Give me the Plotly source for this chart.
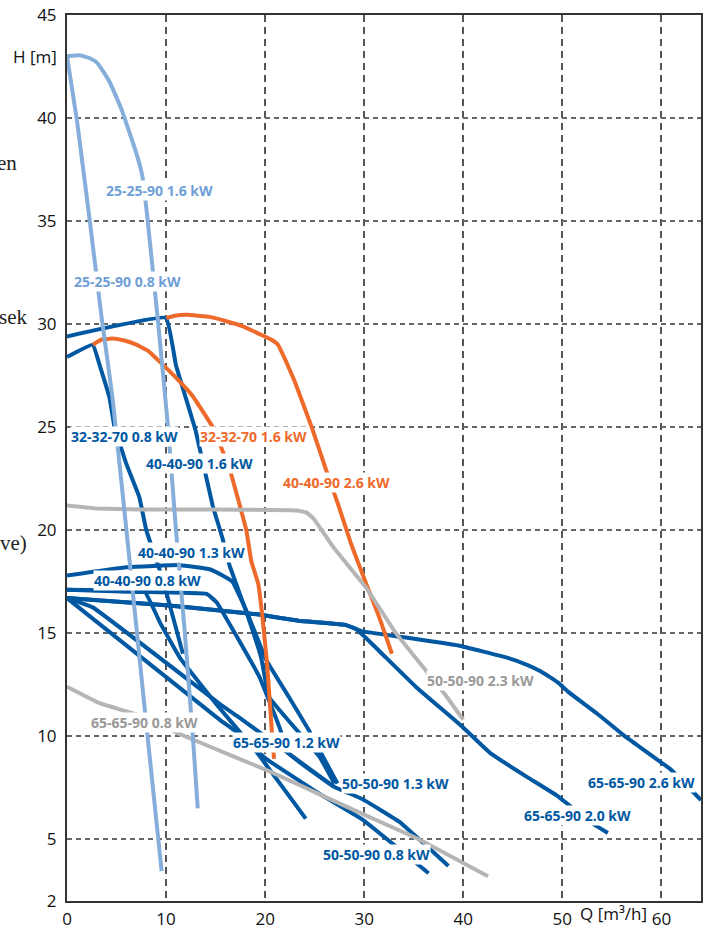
import plotly.graph_objects as go

# ---------------- data ----------------
DARK = "#0058A2"
LIGHT = "#85AEDB"
ORANGE = "#EE6A2B"
GRAY = "#B5B5B5"

q_25_25_90_08 = [0, 1.0, 2.3, 3.5, 4.6, 6.3, 8.0, 9.55]
h_25_25_90_08 = [43, 39.9, 35, 30.3, 26.4, 18.6, 10.6, 3.45]

q_25_25_90_16 = [0, 1.3, 2.3, 3.0, 3.6, 4.3, 5.0, 5.6, 6.3, 7.0, 7.6, 8.15, 9.15, 10.2, 11.0, 11.9, 12.7, 13.2]
h_25_25_90_16 = [43, 43.05, 42.9, 42.7, 42.3, 41.75, 41.0, 40.3, 39.3, 38.3, 37.2, 35, 30.3, 25, 20, 15, 10, 6.5]

q_32_32_70_08 = [0, 2.6, 3.3, 4.3, 4.8, 6.0, 7.3, 8.0, 9.4, 9.9, 11.7]
h_32_32_70_08 = [28.4, 29.0, 28.0, 26.4, 25, 23.2, 21.6, 20, 18.0, 17.2, 14.0]

q_32_32_70_16 = [2.6, 3.5, 4.6, 5.8, 7.0, 8.2, 9.3, 11.0, 12.7, 14.7, 16.4, 18.1, 18.6, 19.3, 19.7, 20.2, 20.7, 20.9]
h_32_32_70_16 = [29.0, 29.25, 29.3, 29.2, 29.0, 28.7, 28.2, 27.4, 26.5, 25, 23.0, 20.0, 18.5, 17.4, 15.9, 13.5, 10.1, 8.9]

q_40_40_90_16 = [0, 10, 11.0, 12.0, 13.0, 14.7, 15.7, 16.4, 18.2, 19.6, 20.4, 24.1, 25.5, 27.0]
h_40_40_90_16 = [29.4, 30.3, 28.0, 26.4, 24.8, 21.2, 19.6, 18.3, 15.9, 13.8, 11.9, 9.8, 9.0, 7.7]

q_40_40_90_26 = [10, 11.0, 12.1, 14.4, 16.0, 17.7, 19.5, 20.6, 21.3, 22.1, 23.0, 24.7, 26.1, 27.4, 28.7, 30.2, 31.5, 32.8]
h_40_40_90_26 = [30.3, 30.42, 30.45, 30.35, 30.15, 29.9, 29.5, 29.25, 29.0, 28.2, 27.2, 25, 23.0, 21.2, 19.3, 17.4, 15.8, 14.0]

q_40_40_90_13 = [0, 6, 11.4, 14.4, 15.7, 16.7, 18.1, 20.1, 22.4, 24.4, 27.3]
h_40_40_90_13 = [17.8, 18.2, 18.3, 18.1, 17.8, 17.5, 16.1, 13.7, 11.9, 10.3, 7.7]

q_40_40_90_08 = [0, 4, 7.8, 9.4, 11.4, 15.0, 19.1, 24.1]
h_40_40_90_08 = [17.1, 17.08, 17.05, 15.5, 13.8, 11.6, 9.25, 6.0]

q_50_50_90_23 = [0, 3, 7.3, 15, 23.2, 24.2, 24.9, 27, 30.2, 33.2, 36.2, 38.2, 40.0]
h_50_50_90_23 = [21.2, 21.05, 21.0, 21.0, 20.95, 20.85, 20.55, 19.1, 17.2, 15.0, 13.2, 12.0, 10.8]

q_50_50_90_13 = [0, 7, 14.1, 15.1, 19.4, 21.4, 22.4, 26.9, 29.8, 33.5, 38.5]
h_50_50_90_13 = [17.1, 17.0, 16.9, 16.5, 12.9, 10.5, 9.15, 7.56, 6.95, 5.86, 3.7]

q_50_50_90_08 = [0, 15.4, 17.4, 20.1, 25.5, 29.8, 36.5]
h_50_50_90_08 = [16.7, 10.8, 10.1, 8.9, 7.2, 5.96, 3.35]

q_65_65_90_08 = [0, 3.3, 7.3, 11.4, 17.4, 20.4, 25.4, 29.7, 35.5, 42.5]
h_65_65_90_08 = [12.4, 11.6, 11.0, 10.1, 8.9, 8.3, 7.2, 6.25, 5.0, 3.2]

q_65_65_90_12 = [0, 2.6, 15.4, 17.4, 22.4, 26.9]
h_65_65_90_12 = [16.7, 16.25, 11.57, 10.9, 9.15, 7.56]

q_65_65_90_20 = [0, 10, 15.4, 19.4, 23.4, 28.1, 29.2, 30.1, 31.8, 35.2, 39.8, 42.8, 46.5, 49.5, 52.9, 54.6]
h_65_65_90_20 = [16.7, 16.35, 16.1, 15.9, 15.6, 15.4, 15.2, 14.8, 14.0, 12.4, 10.5, 9.15, 8.0, 7.1, 5.8, 5.3]

q_65_65_90_26 = [0, 10, 15.4, 19.4, 23.4, 28.1, 29.7, 34, 39.5, 44.5, 46.5, 47.8, 48.8, 49.7, 50.6, 53.5, 56.3, 60.9, 64]
h_65_65_90_26 = [16.7, 16.35, 16.1, 15.9, 15.6, 15.4, 15.1, 14.8, 14.4, 13.8, 13.45, 13.15, 12.85, 12.55, 12.15, 11.1, 10.0, 8.4, 6.9]

x_ticks = [0, 10, 20, 30, 40, 50, 60]
y_ticks = [2, 5, 10, 15, 20, 25, 30, 35, 40, 45]

curves = [
    (q_40_40_90_16, h_40_40_90_16, DARK),
    (q_32_32_70_08, h_32_32_70_08, DARK),
    (q_40_40_90_13, h_40_40_90_13, DARK),
    (q_40_40_90_08, h_40_40_90_08, DARK),
    (q_65_65_90_20, h_65_65_90_20, DARK),
    (q_65_65_90_26, h_65_65_90_26, DARK),
    (q_50_50_90_13, h_50_50_90_13, DARK),
    (q_50_50_90_08, h_50_50_90_08, DARK),
    (q_65_65_90_12, h_65_65_90_12, DARK),
    (q_32_32_70_16, h_32_32_70_16, ORANGE),
    (q_40_40_90_26, h_40_40_90_26, ORANGE),
    (q_50_50_90_23, h_50_50_90_23, GRAY),
    (q_65_65_90_08, h_65_65_90_08, GRAY),
    (q_25_25_90_08, h_25_25_90_08, LIGHT),
    (q_25_25_90_16, h_25_25_90_16, LIGHT),
]

label_text = ["25-25-90 1.6 kW", "25-25-90 0.8 kW", "32-32-70 0.8 kW", "32-32-70 1.6 kW",
              "40-40-90 1.6 kW", "40-40-90 2.6 kW", "40-40-90 1.3 kW", "40-40-90 0.8 kW",
              "65-65-90 0.8 kW", "65-65-90 1.2 kW", "50-50-90 1.3 kW", "50-50-90 0.8 kW",
              "50-50-90 2.3 kW", "65-65-90 2.6 kW", "65-65-90 2.0 kW"]
label_q = [9.35, 6.1, 5.8, 18.8, 13.4, 27.2, 12.6, 8.1, 7.8, 22.2, 33.2, 31.25, 41.7, 58.0, 51.5]
label_h = [36.5, 32.05, 24.56, 24.56, 23.25, 22.3, 18.9, 17.55, 10.65, 9.7, 7.7, 4.27, 12.7, 7.75, 6.15]
label_col = ["#6F9FD6", "#6F9FD6", DARK, ORANGE, DARK, ORANGE, DARK, DARK,
             "#999999", DARK, DARK, DARK, "#999999", DARK, DARK]

W, H = 704, 931
L, R, T, B = 67, 1, 15, 26
PW, PH = W - L - R, H - T - B

# ---------------- figure ----------------
fig = go.Figure()
for q, h, c in curves:
    fig.add_trace(go.Scatter(x=q, y=h, mode="lines",
                             line=dict(color=c, width=4, shape="spline", smoothing=0.25),
                             hoverinfo="skip", showlegend=False))

for t, xq, yh, c in zip(label_text, label_q, label_h, label_col):
    fig.add_annotation(x=xq, y=yh, text="<b>%s</b>" % t, showarrow=False,
                       font=dict(family="Open Sans", size=14, color=c),
                       bgcolor="white", borderpad=0)

fig.add_annotation(xref="paper", yref="y", x=-0.012, y=43, text="H [m]", showarrow=False,
                   xanchor="right", yanchor="middle",
                   font=dict(family="Open Sans", size=17, color="#111"))
fig.add_annotation(xref="x", yref="paper", x=55.2, y=-(918 - (H - B)) / PH, text="Q [m³/h]",
                   showarrow=False, yanchor="middle",
                   font=dict(family="Open Sans", size=17, color="#111"))

# clipped page text at the far left (part of the surrounding page)
side_text = ["en", "sek", "ve)"]
side_right_px = [18, 28, 28]
side_mid_px = [164, 318, 545]
for txt, xr, ym in zip(side_text, side_right_px, side_mid_px):
    fig.add_annotation(xref="paper", yref="paper", x=(xr - L) / PW, y=((H - B) - ym) / PH, text=txt,
                       showarrow=False, xanchor="right", yanchor="middle", borderpad=0,
                       font=dict(family="Liberation Serif", size=21, color="#222"))

fig.update_xaxes(range=[0, 64], tickvals=x_ticks, ticktext=[str(v) for v in x_ticks],
                 showgrid=True, gridcolor="#555", gridwidth=2, griddash="7px,5px",
                 showline=True, linecolor="#333", linewidth=2, mirror=True,
                 zeroline=False, ticks="", ticklabelstandoff=2,
                 tickfont=dict(family="Open Sans", size=17, color="#111"))
fig.update_yaxes(range=[2, 45], tickvals=y_ticks, ticktext=[str(v) for v in y_ticks],
                 showgrid=True, gridcolor="#666", gridwidth=1.4, griddash="5px,4px",
                 showline=True, linecolor="#333", linewidth=2, mirror=True,
                 zeroline=False, ticks="", ticklabelstandoff=5,
                 tickfont=dict(family="Open Sans", size=17, color="#111"))

fig.update_layout(width=W, height=H, margin=dict(l=L, r=R, t=T, b=B),
                  plot_bgcolor="white", paper_bgcolor="white")

fig.write_html("out.html", config={"displayModeBar": False, "staticPlot": True},
               post_script="document.body.style.margin='0';document.body.style.overflow='hidden';")
